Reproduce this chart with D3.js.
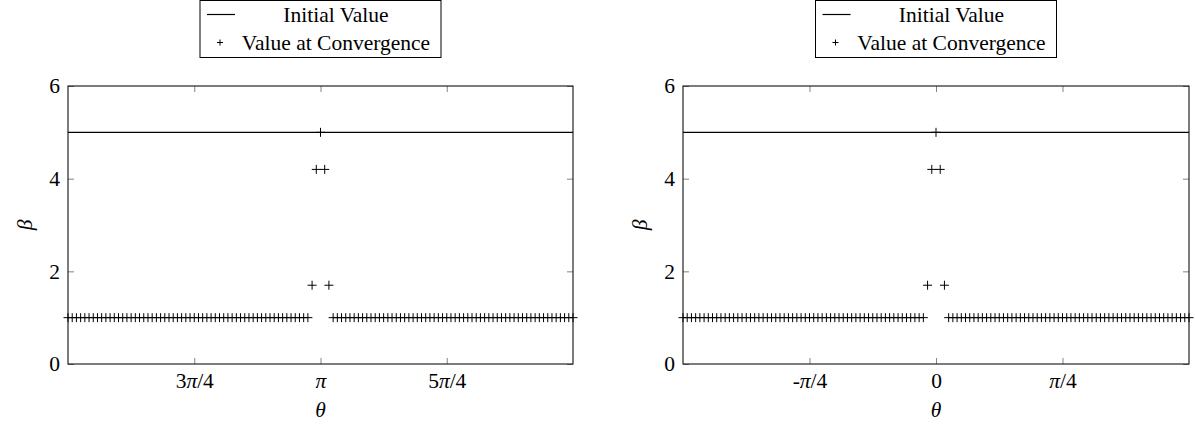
<!DOCTYPE html>
<html>
<head>
<meta charset="utf-8">
<script src="https://cdn.jsdelivr.net/npm/d3@7"></script>
<style>
  body { margin: 0; background: #fff; }
  svg text { font-family: "Liberation Serif", "Times New Roman", "DejaVu Serif", serif; }
</style>
</head>
<body>
<svg id="chart" width="1195" height="427"></svg>
<script>
// ---- data ----
const yTickValues = [0, 2, 4, 6]
const initialValue = 5
// beta at convergence, one value per grid point (121 points over a width of pi)
const convergedBeta = [
  1, 1, 1, 1, 1, 1, 1, 1, 1, 1, 1, 1, 1, 1, 1, 1, 1, 1, 1, 1,
  1, 1, 1, 1, 1, 1, 1, 1, 1, 1, 1, 1, 1, 1, 1, 1, 1, 1, 1, 1,
  1, 1, 1, 1, 1, 1, 1, 1, 1, 1, 1, 1, 1, 1, 1, 1, 1, 1,
  1.7, 4.2, 5, 4.2, 1.7,
  1, 1, 1, 1, 1, 1, 1, 1, 1, 1, 1, 1, 1, 1, 1, 1, 1, 1, 1, 1,
  1, 1, 1, 1, 1, 1, 1, 1, 1, 1, 1, 1, 1, 1, 1, 1, 1, 1, 1, 1,
  1, 1, 1, 1, 1, 1, 1, 1, 1, 1, 1, 1, 1, 1, 1, 1, 1, 1
]
const panels = [
  { center: Math.PI, left: 68, right: 573,
    tickValues: [3 * Math.PI / 4, Math.PI, 5 * Math.PI / 4],
    tickLabels: [['3', 'π', '/4'], ['', 'π', ''], ['5', 'π', '/4']] },
  { center: 0, left: 683, right: 1189,
    tickValues: [-Math.PI / 4, 0, Math.PI / 4],
    tickLabels: [['-', 'π', '/4'], ['0', '', ''], ['', 'π', '/4']] }
]
const legendLabels = ['Initial Value', 'Value at Convergence']

const plotTop = 86, plotBottom = 364
const fontSize = 21.5
const serif = '"Liberation Serif", "Times New Roman", "DejaVu Serif", serif'
const svg = d3.select('#chart')

const drawPanel = (p) => {
  const x = d3.scaleLinear()
    .domain([p.center - Math.PI / 2, p.center + Math.PI / 2])
    .range([p.left, p.right])
  const y = d3.scaleLinear().domain([0, 6]).range([plotBottom, plotTop])
  const g = svg.append('g').attr('font-family', serif)

  const tickStyle = (sel) => {
    sel.attr('font-family', serif)
    sel.select('.domain').remove()
    sel.selectAll('.tick line').attr('stroke', '#666').attr('stroke-width', 0.8)
  }

  // bottom axis (labels)
  const xb = g.append('g').attr('transform', `translate(0,${plotBottom})`)
    .call(d3.axisBottom(x).tickValues(p.tickValues).tickSizeInner(-6).tickSizeOuter(0).tickFormat(''))
    .call(tickStyle)
  xb.selectAll('.tick text').remove()
  xb.selectAll('.tick').append('text')
    .attr('y', 9).attr('dy', '0.72em')
    .attr('text-anchor', 'middle')
    .attr('fill', '#000')
    .attr('font-size', fontSize)
    .attr('font-family', serif)
    .each(function (d, i) {
      const parts = p.tickLabels[i]
      const t = d3.select(this)
      if (parts[0]) t.append('tspan').text(parts[0])
      if (parts[1]) t.append('tspan').attr('font-style', 'italic').text(parts[1])
      if (parts[2]) t.append('tspan').text(parts[2])
    })

  // top axis (ticks only)
  g.append('g').attr('transform', `translate(0,${plotTop})`)
    .call(d3.axisTop(x).tickValues(p.tickValues).tickSizeInner(-6).tickSizeOuter(0).tickFormat(''))
    .call(tickStyle)

  // left axis
  g.append('g').attr('transform', `translate(${p.left},0)`)
    .call(d3.axisLeft(y).tickValues(yTickValues).tickFormat(d3.format('d'))
      .tickSizeInner(-6).tickSizeOuter(0).tickPadding(8))
    .call(tickStyle)
    .call((a) => a.selectAll('.tick text')
      .attr('font-size', fontSize).attr('font-family', serif).attr('fill', '#000'))

  // right axis (ticks only)
  g.append('g').attr('transform', `translate(${p.right},0)`)
    .call(d3.axisRight(y).tickValues(yTickValues).tickSizeInner(-6).tickSizeOuter(0).tickFormat(''))
    .call(tickStyle)

  // frame
  g.append('rect')
    .attr('x', p.left).attr('y', plotTop)
    .attr('width', p.right - p.left).attr('height', plotBottom - plotTop)
    .attr('fill', 'none').attr('stroke', '#111').attr('stroke-width', 1.1)

  // initial value line
  g.append('line')
    .attr('x1', x(p.center - Math.PI / 2)).attr('x2', x(p.center + Math.PI / 2))
    .attr('y1', y(initialValue)).attr('y2', y(initialValue))
    .attr('stroke', '#000').attr('stroke-width', 1.2)

  // converged markers
  const n = convergedBeta.length - 1
  const pts = convergedBeta.map((b, i) => ({ theta: p.center - Math.PI / 2 + i * Math.PI / n, beta: b }))
  const ms = 4.5
  g.append('g').selectAll('path')
    .data(pts)
    .enter()
    .append('path')
    .attr('d', (d) => {
      const cx = x(d.theta), cy = y(d.beta)
      return `M${cx - ms},${cy}H${cx + ms}M${cx},${cy - ms}V${cy + ms}`
    })
    .attr('stroke', '#000')
    .attr('stroke-width', 1)
    .attr('fill', 'none')

  // axis titles
  g.append('text')
    .attr('x', (p.left + p.right) / 2).attr('y', 417)
    .attr('text-anchor', 'middle')
    .attr('font-size', fontSize).attr('font-style', 'italic')
    .attr('font-family', serif)
    .text('θ')
  g.append('text')
    .attr('transform', `translate(${p.left - 36},${(plotTop + plotBottom) / 2}) rotate(-90)`)
    .attr('text-anchor', 'middle')
    .attr('font-size', fontSize).attr('font-style', 'italic')
    .attr('font-family', serif)
    .text('β')

  // legend
  const lw = 241, lh = 57
  const lx = (p.left + p.right) / 2 - lw / 2
  const legend = g.append('g').attr('transform', `translate(${lx},0.5)`)
  legend.append('rect')
    .attr('width', lw).attr('height', lh)
    .attr('fill', '#fff').attr('stroke', '#000').attr('stroke-width', 1)
  legend.append('line')
    .attr('x1', 7).attr('x2', 35).attr('y1', 14).attr('y2', 14)
    .attr('stroke', '#000').attr('stroke-width', 1.2)
  legend.append('path')
    .attr('d', `M17,42H23M20,39V45`)
    .attr('stroke', '#000').attr('stroke-width', 1)
  legend.selectAll('text.leg')
    .data(legendLabels)
    .enter()
    .append('text')
    .attr('class', 'leg')
    .attr('x', 136)
    .attr('y', (d, i) => 14 + i * 28)
    .attr('dy', '0.35em')
    .attr('text-anchor', 'middle')
    .attr('font-size', fontSize)
    .attr('font-family', serif)
    .text((d) => d)
}

panels.forEach(drawPanel)
</script>
</body>
</html>
